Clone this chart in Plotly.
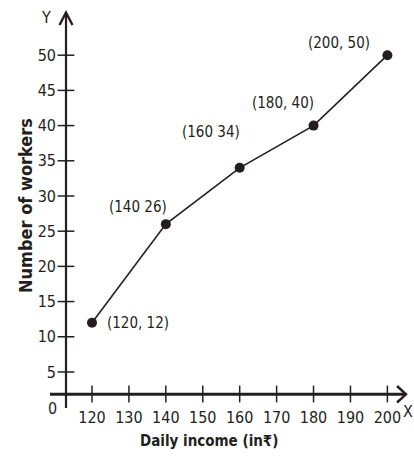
import plotly.graph_objects as go

# Daily income (in rupees) and number of workers
income = [120, 140, 160, 180, 200]
workers = [12, 26, 34, 40, 50]
point_labels = ["(120, 12)", "(140 26)", "(160 34)", "(180, 40)", "(200, 50)"]
# pixel offsets of each point label from its point
label_dx = [46, -28, -29, -31, -48]
label_dy = [0, 17, 36, 23, 12]

x_ticks = [120, 130, 140, 150, 160, 170, 180, 190, 200]
y_ticks = [5, 10, 15, 20, 25, 30, 35, 40, 45, 50]

X_MIN, X_MAX = 112.96, 204.5   # y-axis sits at X_MIN
Y_MIN, Y_MAX = 1.87, 55.0      # x-axis sits at Y_MIN

INK = "#231f20"
FONT = "DejaVu Sans Condensed, Liberation Sans Narrow, Arial Narrow, Liberation Sans, sans-serif"

# plot-area geometry in pixels (for the axis decorations)
L, R, T, B = 66, 10, 20, 66
W, H = 414, 460
PW, PH = W - L - R, H - T - B


def px(xp):
    return (xp - L) / PW


def py(yp):
    return (H - B - yp) / PH


fig = go.Figure()

# crossing tick marks on both axes
fig.add_trace(go.Scatter(
    x=x_ticks, y=[Y_MIN] * len(x_ticks), mode="markers",
    marker=dict(symbol="line-ns", size=12, line=dict(color=INK, width=1.5)),
    cliponaxis=False, hoverinfo="skip", showlegend=False))
fig.add_trace(go.Scatter(
    x=[X_MIN] * len(y_ticks), y=y_ticks, mode="markers",
    marker=dict(symbol="line-ew", size=12, line=dict(color=INK, width=1.5)),
    cliponaxis=False, hoverinfo="skip", showlegend=False))

# the data line
fig.add_trace(go.Scatter(
    x=income, y=workers, mode="lines+markers",
    line=dict(color=INK, width=1.6),
    marker=dict(color=INK, size=10),
    cliponaxis=False, showlegend=False))

shapes = [
    # y-axis line
    dict(type="line", xref="paper", yref="paper",
         x0=px(66), x1=px(66), y0=py(408), y1=py(13),
         line=dict(color=INK, width=2.2)),
    # x-axis line
    dict(type="line", xref="paper", yref="paper",
         x0=px(50), x1=px(405), y0=py(394.3), y1=py(394.3),
         line=dict(color=INK, width=3)),
    # arrowheads
    dict(type="path", xref="paper", yref="paper",
         path=f"M {px(59.5)} {py(25)} L {px(66)} {py(12.5)} L {px(72.5)} {py(25)}",
         line=dict(color=INK, width=2.4)),
    dict(type="path", xref="paper", yref="paper",
         path=f"M {px(397)} {py(386)} L {px(406)} {py(394.3)} L {px(397)} {py(402.5)}",
         line=dict(color=INK, width=2.4)),
]


def note(x, y, text, size=15, **kw):
    return dict(x=px(x), y=py(y), xref="paper", yref="paper", text=text,
                showarrow=False, xanchor="center", yanchor="middle",
                font=dict(family=FONT, size=size, color=INK), **kw)


annotations = []
for xv, yv, t, dx, dy in zip(income, workers, point_labels, label_dx, label_dy):
    annotations.append(dict(x=xv, y=yv, xref="x", yref="y", text=t,
                            showarrow=False, xshift=dx, yshift=dy,
                            xanchor="center", yanchor="middle",
                            font=dict(family=FONT, size=15, color=INK)))

annotations += [
    note(52, 408, "0", 16),
    note(46, 18, "Y", 16),
    note(408, 411, "X", 16),
    note(209, 441, "<b>Daily income (in₹)</b>", 15),
    note(25, 206, "<b>Number of workers</b>", 18, textangle=-90),
]

fig.update_layout(
    width=W, height=H,
    margin=dict(l=L, r=R, t=T, b=B, pad=0),
    paper_bgcolor="white", plot_bgcolor="white",
    shapes=shapes, annotations=annotations,
    xaxis=dict(range=[X_MIN, X_MAX], tickvals=x_ticks,
               ticktext=[str(v) for v in x_ticks],
               showgrid=False, zeroline=False, showline=False, ticks="",
               ticklabelstandoff=12,
               tickfont=dict(family=FONT, size=16, color=INK)),
    yaxis=dict(range=[Y_MIN, Y_MAX], tickvals=y_ticks,
               ticktext=[str(v) for v in y_ticks],
               showgrid=False, zeroline=False, showline=False, ticks="",
               ticklabelstandoff=9,
               tickfont=dict(family=FONT, size=16, color=INK)),
)

fig.write_html("out.html")
